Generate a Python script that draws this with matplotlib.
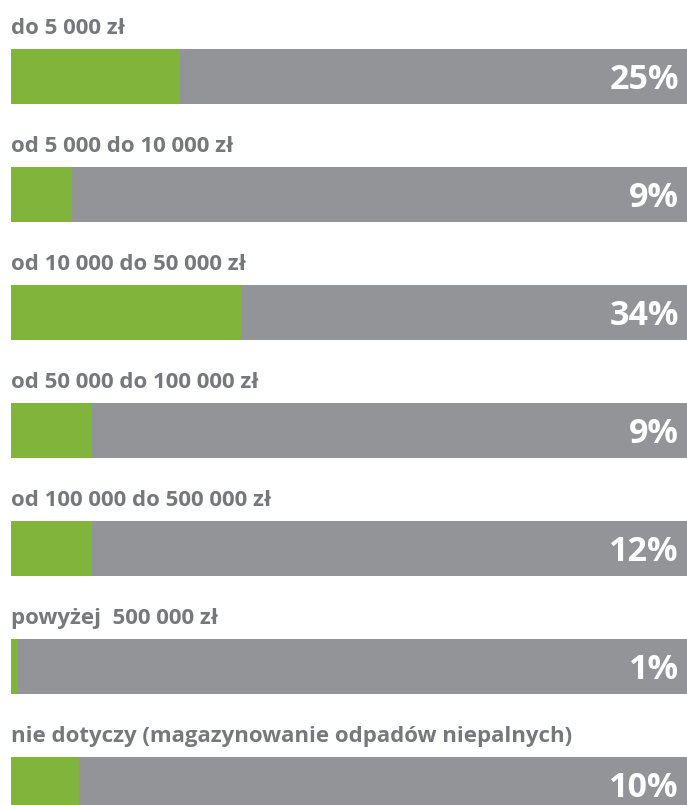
import matplotlib
matplotlib.use("Agg")
import matplotlib.pyplot as plt

categories = [
    "do 5 000 zł",
    "od 5 000 do 10 000 zł",
    "od 10 000 do 50 000 zł",
    "od 50 000 do 100 000 zł",
    "od 100 000 do 500 000 zł",
    "powyżej  500 000 zł",
    "nie dotyczy (magazynowanie odpadów niepalnych)",
]
bar_values = [25, 9, 34, 12, 12, 1, 10]
value_labels = ["25%", "9%", "34%", "9%", "12%", "1%", "10%"]

GREEN = "#80b43a"
GREY = "#939497"
TEXT = "#77787b"

W, H = 687, 805
fig = plt.figure(figsize=(W / 100, H / 100), dpi=100)
left = 11 / W
ax = fig.add_axes([left, 0, 1 - left, 1])

spacing = 118.0
first_center = 76.5
bar_h = 55 / spacing
ax.set_xlim(0, 100)
ax.set_ylim((H - first_center) / spacing, -first_center / spacing)
ax.axis("off")

n = len(categories)
ys = list(range(n))
ax.barh(ys, [100] * n, height=bar_h, color=GREY, left=0)
ax.barh(ys, bar_values, height=bar_h, color=GREEN, left=0)

for i, (cat, lab) in enumerate(zip(categories, value_labels)):
    ax.text(0, i - 0.41, cat, ha="left", va="center", fontsize=16,
            fontweight="bold", color=TEXT, family=["Open Sans", "DejaVu Sans"])
    ax.text(98.8, i + 0.03, lab, ha="right", va="center", fontsize=24.5,
            fontweight="bold", color="white", family=["Open Sans", "DejaVu Sans"])

fig.savefig("out.png", dpi=100)
